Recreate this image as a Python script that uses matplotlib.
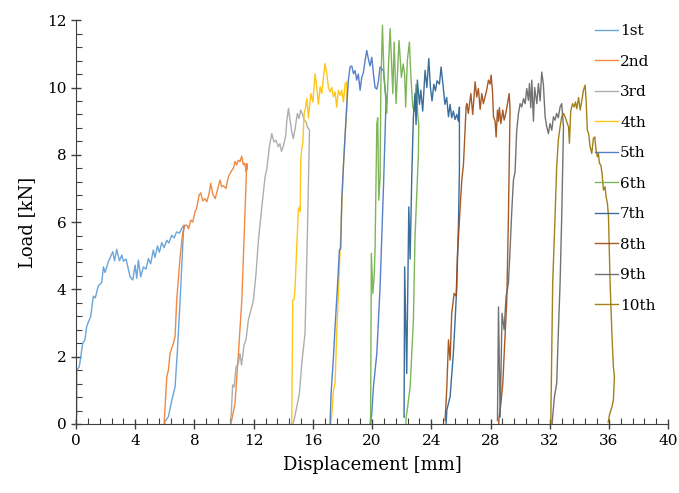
import numpy as np
import matplotlib.pyplot as plt
from matplotlib.ticker import MultipleLocator

# load cycles: displacement [mm], load [kN]
x1 = [0.0, 0.05, 0.05, 0.22, 0.45, 0.6, 0.72, 0.99, 1.17, 1.3, 1.5, 1.73, 1.85, 1.96, 2.18, 2.48, 2.6, 2.75,
      2.93, 3.09, 3.2, 3.38, 3.65, 3.83, 3.99, 4.1, 4.21, 4.37, 4.55, 4.73, 4.89, 5.04, 5.22, 5.33, 5.5, 5.63,
      5.79, 5.95, 6.13, 6.27, 6.46, 6.62, 6.8, 6.98, 7.14, 7.3, 7.25, 7.03, 6.85, 6.69, 6.47, 6.24, 6.01, 6.0]
y1 = [0.0, 0.3, 1.6, 1.7, 2.4, 2.5, 2.9, 3.2, 3.8, 3.75, 4.1, 4.2, 4.67, 4.5, 4.82, 5.12, 4.85, 5.19,
      4.85, 5.02, 4.84, 4.9, 4.37, 4.28, 4.72, 4.33, 4.87, 4.37, 4.67, 4.6, 4.92, 4.76, 5.17, 4.95, 5.29, 5.1,
      5.39, 5.24, 5.46, 5.38, 5.61, 5.53, 5.71, 5.67, 5.81, 5.91, 5.67, 3.68, 2.2, 1.1, 0.7, 0.22, 0.07, 0.0]

x2 = [5.95, 6.13, 6.24, 6.35, 6.58, 6.69, 6.8, 7.03, 7.2, 7.35, 7.48, 7.6, 7.75, 7.88, 8.04, 8.15, 8.31, 8.42,
      8.56, 8.71, 8.83, 8.99, 9.1, 9.24, 9.4, 9.55, 9.73, 9.84, 9.95, 10.13, 10.29, 10.47, 10.63, 10.74, 10.85,
      10.97, 11.08, 11.19, 11.3, 11.4, 11.49, 11.58, 11.53, 11.42, 11.2, 10.97, 10.74, 10.52, 10.45]
y2 = [0.0, 1.4, 1.6, 2.1, 2.4, 2.6, 3.68, 4.97, 5.67, 5.9, 5.91, 5.8, 6.06, 6.0, 6.31, 6.41, 6.8, 6.87,
      6.63, 6.7, 6.6, 6.85, 7.15, 6.83, 6.7, 6.95, 7.25, 7.05, 7.08, 7.0, 7.35, 7.5, 7.6, 7.8, 7.7,
      7.84, 7.8, 7.96, 7.7, 7.75, 7.5, 7.64, 7.74, 6.36, 3.68, 2.1, 0.62, 0.12, 0.0]

x3 = [10.45, 10.58, 10.68, 10.81, 10.97, 11.07, 11.18, 11.35, 11.48, 11.64, 11.87, 11.98, 12.16, 12.32, 12.55,
      12.77, 12.88, 13.06, 13.22, 13.37, 13.51, 13.66, 13.77, 13.88, 13.99, 14.17, 14.23, 14.35, 14.46, 14.57,
      14.68, 14.8, 14.95, 15.06, 15.18, 15.32, 15.41, 15.54, 15.63, 15.77, 15.63, 15.47, 15.25, 15.09, 14.91,
      14.73, 14.64]
y3 = [0.0, 1.16, 1.1, 1.7, 1.8, 2.1, 1.75, 2.35, 2.5, 3.09, 3.48, 3.68, 4.48, 5.46, 6.45,
      7.35, 7.55, 8.24, 8.63, 8.38, 8.43, 8.24, 8.33, 8.1, 8.24, 8.58, 8.98, 9.38, 9.03, 8.68,
      8.48, 8.78, 9.23, 9.08, 9.33, 9.18, 9.03, 8.98, 8.83, 8.73, 5.67, 2.7, 1.8, 0.91, 0.51,
      0.12, 0.0]

x4 = [14.57, 14.64, 14.73, 14.8, 14.91, 15.02, 15.09, 15.14, 15.18, 15.25, 15.32, 15.41, 15.5, 15.59, 15.7,
      15.86, 16.0, 16.15, 16.26, 16.37, 16.49, 16.6, 16.71, 16.82, 16.94, 17.05, 17.16, 17.27, 17.39, 17.5,
      17.61, 17.72, 17.84, 17.95, 18.06, 18.18, 18.29, 18.29, 18.06, 17.84, 17.61, 17.5, 17.39, 17.27, 17.2]
y4 = [0.0, 3.68, 3.7, 4.08, 5.27, 6.36, 6.45, 6.32, 7.84, 8.2, 8.35, 9.23, 9.4, 9.67, 9.1,
      9.82, 9.57, 10.41, 10.0, 9.5, 10.02, 9.82, 10.3, 10.71, 10.41, 10.0, 9.87, 10.0, 9.72, 9.87,
      9.42, 9.92, 9.77, 9.92, 9.57, 10.12, 10.17, 9.42, 7.64, 5.17, 2.7, 1.21, 1.0, 0.22, 0.0]

x5 = [17.16, 17.23, 17.39, 17.5, 17.66, 17.79, 17.88, 17.95, 18.06, 18.18, 18.29, 18.4, 18.51, 18.63, 18.74,
      18.85, 18.96, 19.07, 19.19, 19.3, 19.41, 19.53, 19.64, 19.75, 19.86, 19.98, 20.09, 20.2, 20.32, 20.43,
      20.54, 20.66, 20.77, 20.88, 20.95, 20.77, 20.54, 20.32, 20.09, 19.98, 19.9]
y5 = [0.0, 0.91, 2.0, 2.89, 4.08, 5.17, 5.2, 6.65, 7.64, 8.63, 9.47, 10.22, 10.61, 10.64, 10.41,
      10.5, 10.22, 10.4, 9.92, 10.3, 10.44, 10.81, 11.1, 10.85, 10.64, 10.9, 10.41, 10.0, 9.95, 10.2,
      10.61, 10.55, 10.5, 9.92, 9.72, 7.05, 4.08, 2.1, 1.1, 0.32, 0.0]

x6 = [19.86, 19.9, 19.95, 20.05, 20.14, 20.2, 20.32, 20.38, 20.45, 20.54, 20.59, 20.7, 20.8, 20.99, 21.1,
      21.22, 21.4, 21.49, 21.62, 21.82, 21.98, 22.1, 22.2, 22.27, 22.38, 22.52, 22.63, 22.75, 22.86, 22.97,
      23.08, 23.15, 23.13, 22.9, 22.79, 22.57, 22.39, 22.3, 22.28]
y6 = [0.0, 0.2, 5.07, 3.88, 4.4, 5.17, 8.93, 9.1, 6.65, 7.3, 10.0, 11.85, 10.4, 9.23, 10.6,
      11.75, 9.82, 11.35, 9.52, 11.4, 10.3, 10.7, 10.4, 9.42, 10.8, 11.35, 10.25, 9.42, 9.3, 10.1,
      9.2, 8.9, 8.04, 5.56, 3.09, 1.1, 0.47, 0.2, 0.0]

x7 = [22.16, 22.2, 22.34, 22.48, 22.57, 22.68, 22.79, 22.9, 22.97, 23.06, 23.2, 23.29, 23.42, 23.58, 23.7,
      23.83, 23.94, 24.05, 24.17, 24.28, 24.39, 24.55, 24.66, 24.81, 24.92, 25.04, 25.16, 25.27, 25.38, 25.49,
      25.6, 25.72, 25.83, 25.9, 25.9, 25.83, 25.72, 25.61, 25.49, 25.27, 25.05, 25.0]
y7 = [0.2, 4.67, 1.5, 6.45, 4.9, 7.35, 9.13, 9.82, 8.9, 10.22, 9.5, 9.92, 9.3, 10.51, 10.0,
      10.86, 10.0, 9.6, 10.1, 9.9, 10.2, 10.1, 10.61, 10.0, 9.5, 9.7, 9.13, 9.5, 9.1, 9.3,
      9.05, 9.2, 9.0, 9.42, 7.54, 5.86, 4.08, 3.09, 2.1, 0.81, 0.42, 0.0]

x8 = [24.93, 25.05, 25.16, 25.27, 25.38, 25.54, 25.68, 25.77, 25.9, 26.06, 26.17, 26.24, 26.35, 26.4, 26.5,
      26.67, 26.8, 26.96, 27.07, 27.18, 27.3, 27.41, 27.52, 27.63, 27.74, 27.86, 27.97, 28.04, 28.13, 28.2,
      28.31, 28.38, 28.47, 28.54, 28.6, 28.7, 28.83, 28.92, 29.03, 29.14, 29.26, 29.32, 29.21, 29.1, 28.99,
      28.83, 28.7, 28.58, 28.55]
y8 = [0.1, 1.1, 2.5, 1.9, 3.29, 3.88, 3.8, 5.07, 6.06, 7.25, 7.7, 8.34, 9.42, 9.52, 9.23,
      9.82, 9.2, 10.17, 9.72, 9.97, 9.35, 9.82, 9.52, 9.72, 9.92, 10.22, 10.1, 10.37, 9.92, 9.13,
      9.0, 8.53, 9.33, 9.0, 9.4, 8.93, 9.33, 9.03, 9.23, 9.5, 9.82, 9.33, 6.16, 3.68, 2.69,
      1.21, 0.61, 0.2, 0.0]

x9 = [28.47, 28.54, 28.65, 28.78, 28.92, 29.05, 29.21, 29.32, 29.44, 29.55, 29.66, 29.77, 29.89, 30.0, 30.11,
      30.23, 30.34, 30.45, 30.56, 30.63, 30.72, 30.79, 30.9, 30.98, 31.13, 31.24, 31.35, 31.46, 31.57, 31.69,
      31.8, 31.91, 32.02, 32.14, 32.25, 32.36, 32.47, 32.58, 32.7, 32.81, 32.93, 32.81, 32.7, 32.58, 32.47,
      32.32, 32.2, 32.16]
y9 = [0.1, 3.48, 0.2, 3.29, 2.8, 3.78, 4.18, 5.17, 6.36, 7.25, 7.5, 8.73, 9.23, 9.52, 9.42,
      9.67, 9.52, 9.97, 9.62, 10.12, 9.4, 10.22, 9.0, 10.0, 9.52, 10.12, 9.6, 10.46, 10.1, 9.13,
      8.83, 8.63, 8.93, 8.73, 9.13, 9.03, 9.23, 9.1, 9.42, 9.52, 8.83, 6.16, 4.18, 2.69, 1.21,
      0.81, 0.22, 0.0]

x10 = [32.07, 32.14, 32.2, 32.36, 32.47, 32.58, 32.7, 32.81, 32.93, 33.04, 33.15, 33.27, 33.33, 33.42, 33.54,
       33.65, 33.74, 33.83, 33.95, 34.06, 34.17, 34.28, 34.39, 34.46, 34.54, 34.63, 34.73, 34.84, 34.95, 35.04,
       35.13, 35.22, 35.29, 35.36, 35.45, 35.54, 35.63, 35.74, 35.81, 35.9, 35.97, 36.08, 36.2, 36.3, 36.37,
       36.3, 36.2, 36.05, 35.95]
y10 = [0.0, 2.2, 4.18, 6.16, 7.64, 8.43, 8.83, 9.13, 9.23, 9.13, 8.98, 8.83, 8.34, 9.3, 9.52,
       9.42, 9.57, 9.37, 9.7, 9.33, 9.62, 9.92, 10.07, 9.62, 8.73, 8.63, 8.24, 8.04, 8.49, 8.53,
       8.14, 7.94, 8.04, 7.74, 7.7, 7.44, 6.95, 7.05, 6.75, 6.55, 6.16, 4.18, 2.69, 1.7, 1.4,
       0.71, 0.5, 0.3, 0.05]

labels = ["1st", "2nd", "3rd", "4th", "5th", "6th", "7th", "8th", "9th", "10th"]
colors = ["#5B9BD5", "#ED7D31", "#A5A5A5", "#FFC000", "#4472C4",
          "#70AD47", "#255E91", "#9E480E", "#636363", "#997300"]
xs = [x1, x2, x3, x4, x5, x6, x7, x8, x9, x10]
ys = [y1, y2, y3, y4, y5, y6, y7, y8, y9, y10]

plt.rcParams['font.family'] = ['DejaVu Serif']

fig = plt.figure(figsize=(6.79, 4.93), dpi=100)
ax = fig.add_axes([0.112, 0.140, 0.872, 0.819])

for x, y, c, lab in zip(xs, ys, colors, labels):
    ax.plot(x, y, color=c, lw=1.0, alpha=0.9, label=lab, clip_on=False)

ax.set_xlim(0, 40)
ax.set_ylim(0, 12)
ax.xaxis.set_major_locator(MultipleLocator(4))
ax.xaxis.set_minor_locator(MultipleLocator(0.8))
ax.yaxis.set_major_locator(MultipleLocator(2))
ax.yaxis.set_minor_locator(MultipleLocator(0.4))
ax.tick_params(which='major', direction='inout', length=7, width=1, color='#404040', labelsize=11)
ax.tick_params(which='minor', direction='in', length=4, width=0.8, color='#404040')
for s in ['top', 'right']:
    ax.spines[s].set_visible(False)
for s in ['left', 'bottom']:
    ax.spines[s].set_color('#404040')

ax.set_xlabel("Displacement [mm]", fontsize=13, labelpad=6)
ax.set_ylabel("Load [kN]", fontsize=13, labelpad=8)

ax.legend(loc='upper left', bbox_to_anchor=(0.866, 1.005), frameon=False, fontsize=11,
          handlelength=1.5, handletextpad=0.15, labelspacing=1.08, borderaxespad=0.0)

fig.savefig("out.png", dpi=100)
